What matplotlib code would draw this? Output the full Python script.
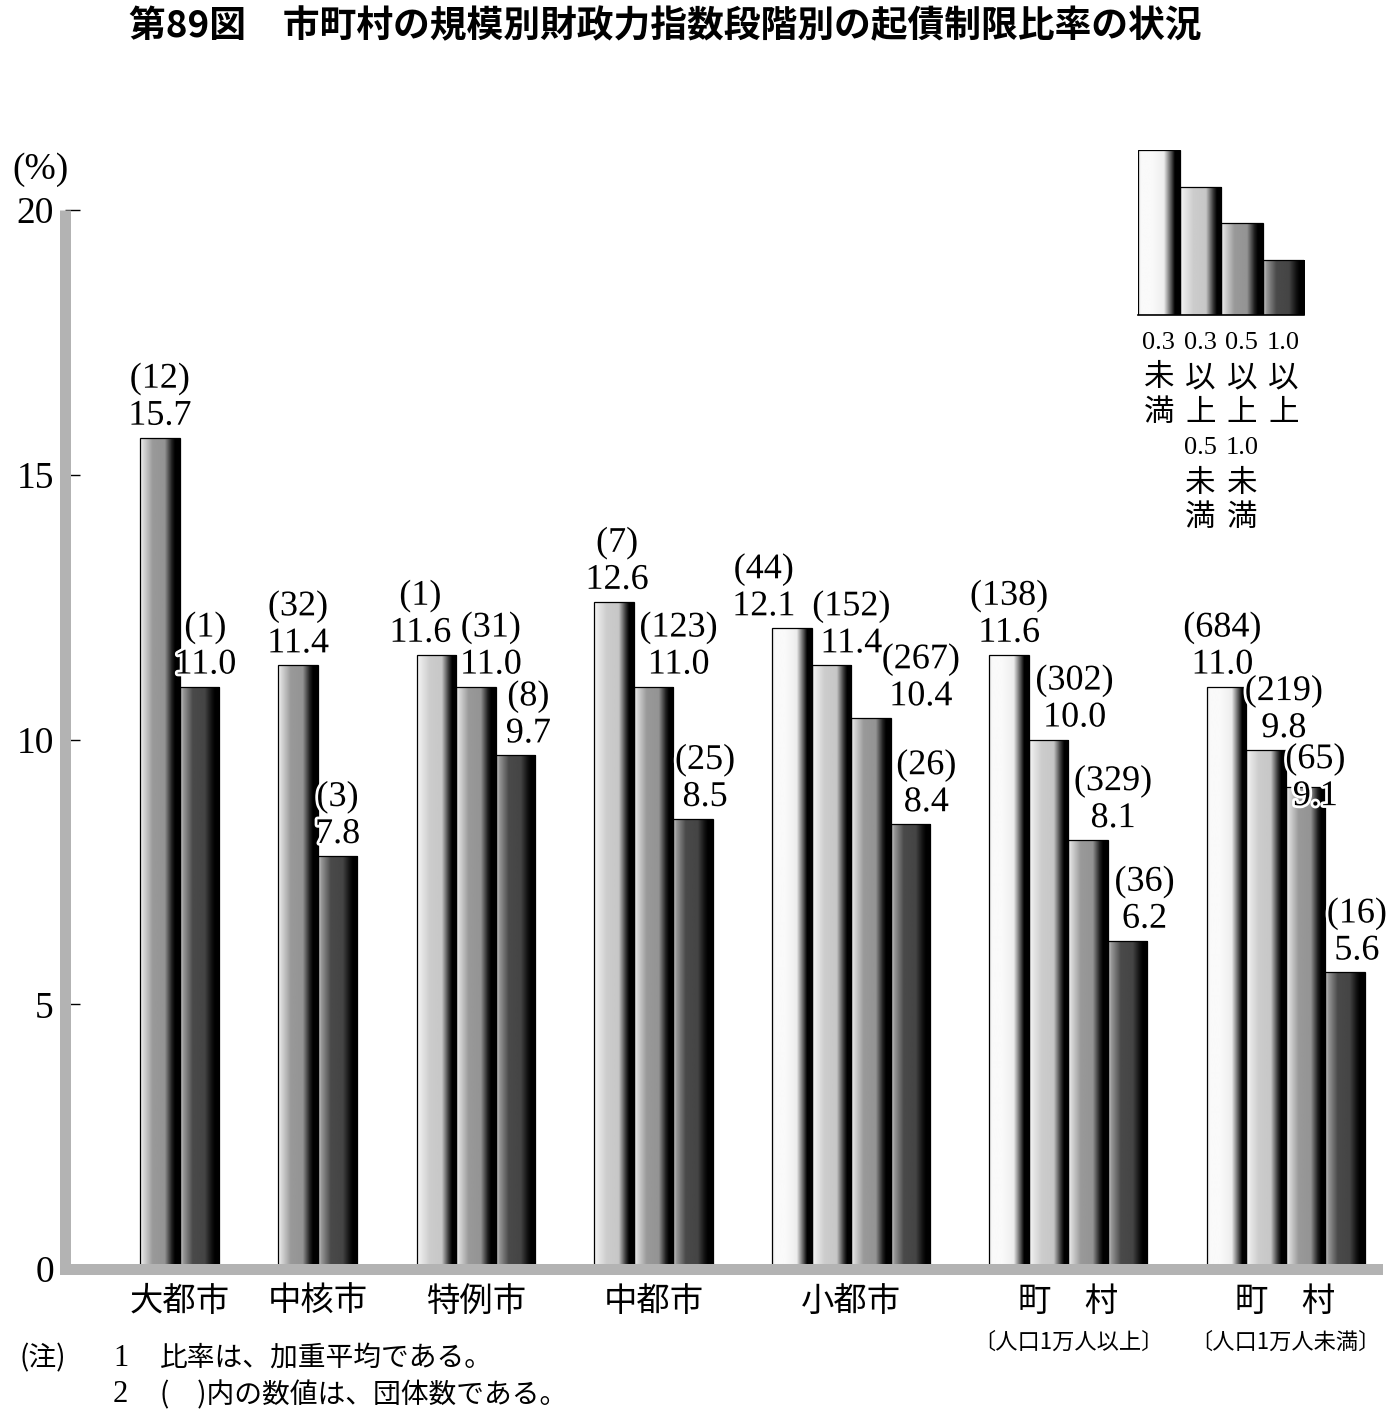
import numpy as np
import matplotlib
matplotlib.use("Agg")
import matplotlib.pyplot as plt
import matplotlib.patheffects as pe
from matplotlib.transforms import blended_transform_factory

# ---------------- data ----------------
title = "第89図　市町村の規模別財政力指数段階別の起債制限比率の状況"
groups = ["大都市", "中核市", "特例市", "中都市", "小都市", "町　村", "町　村"]
group_sub = ["", "", "", "", "", "〔人口1万人以上〕", "〔人口1万人未満〕"]
tier_names = ["0.3未満", "0.3以上0.5未満", "0.5以上1.0未満", "1.0以上"]
tier_label_lines = [["0.3", "未", "満"],
                    ["0.3", "以", "上", "0.5", "未", "満"],
                    ["0.5", "以", "上", "1.0", "未", "満"],
                    ["1.0", "以", "上"]]
bar_tiers = [[2, 3], [2, 3], [1, 2, 3], [1, 2, 3],
             [0, 1, 2, 3], [0, 1, 2, 3], [0, 1, 2, 3]]
ratios = [[15.7, 11.0], [11.4, 7.8], [11.6, 11.0, 9.7], [12.6, 11.0, 8.5],
          [12.1, 11.4, 10.4, 8.4], [11.6, 10.0, 8.1, 6.2], [11.0, 9.8, 9.1, 5.6]]
counts = [[12, 1], [32, 3], [1, 31, 8], [7, 123, 25],
          [44, 152, 267, 26], [138, 302, 329, 36], [684, 219, 65, 16]]
yticks = [0, 5, 10, 15, 20]
ytick_labels = ["0", "5", "10", "15", "20"]
unit_label = "(%)"
note_head = "(注)"
note_nums = ["1", "2"]
note_texts = ["比率は、加重平均である。", "(　)内の数値は、団体数である。"]

# ---------------- layout / style ----------------
W, H = 1400, 1420
DPI = 100
JP = ["Noto Sans CJK JP", "DejaVu Sans"]
NUM = ["Liberation Serif", "DejaVu Serif"]
SPINE_GRAY = "#b3b3b3"

# label horizontal nudges (pixels) and vertical nudges (pixels)
label_dx = [[0, 6], [0, 0], [-16, 15, 13], [3, 25, 12],
            [-28, 20, 50, 16], [0, 26, 25, 17], [-4, 18, 10, 12]]
label_dy = [[0, 0], [0, 0], [0, 0, 0], [0, 0, 0],
            [0, 0, 0, 0], [0, 0, 0, 0], [0, 0, -31, 0]]

# gradient profiles per tier (position, gray level)
grad_x = [0.0, 0.08, 0.32, 0.62, 0.80, 0.88, 1.0]
grad_profiles = [
    [0.90, 0.98, 0.98, 0.93, 0.30, 0.0, 0.0],
    [0.97, 0.92, 0.80, 0.78, 0.20, 0.0, 0.0],
    [0.97, 0.85, 0.60, 0.58, 0.12, 0.0, 0.0],
    [0.85, 0.60, 0.29, 0.27, 0.06, 0.0, 0.0],
]
legend_heights = [4.5, 3.5, 2.5, 1.5]


def gradient(tier, n=256):
    t = np.linspace(0, 1, n)
    return np.interp(t, grad_x, grad_profiles[tier])


def fill_bar(ax, rect, tier):
    x0, y0 = rect.get_x(), rect.get_y()
    w, h = rect.get_width(), rect.get_height()
    im = ax.imshow(gradient(tier)[np.newaxis, :], cmap="gray", vmin=0, vmax=1,
                   extent=[x0, x0 + w, y0, y0 + h], aspect="auto",
                   interpolation="bilinear", zorder=0.9)
    im.set_clip_path(rect)


fig = plt.figure(figsize=(W / DPI, H / DPI), dpi=DPI)

ax_left, ax_right, ax_top, ax_bottom = 65, 1377, 210, 1269
ax = fig.add_axes([ax_left / W, 1 - ax_bottom / H,
                   (ax_right - ax_left) / W, (ax_bottom - ax_top) / H])
bar_px = 39.5
xmax = (ax_right - ax_left) / bar_px

# bar positions: in bar-width units
start = 1.9
gap = 1.5
group_lefts = []
for vals in ratios:
    lefts = start + np.arange(len(vals))
    group_lefts.append(lefts)
    start += len(vals) + gap

halo = [pe.withStroke(linewidth=4, foreground="white")]
for gi, (lefts, vals, tiers, cnts) in enumerate(zip(group_lefts, ratios, bar_tiers, counts)):
    bars = ax.bar(lefts, vals, width=1.0, align="edge", facecolor="none",
                  edgecolor="black", linewidth=0.9, zorder=1)
    for rect, tier in zip(bars, tiers):
        fill_bar(ax, rect, tier)
    for bi, (rect, v, c) in enumerate(zip(bars, vals, cnts)):
        xc = rect.get_x() + rect.get_width() / 2
        dx = label_dx[gi][bi]
        dy = label_dy[gi][bi]
        ax.annotate(f"{v:.1f}", (xc, v), xytext=(dx, 13 + dy),
                    textcoords="offset pixels", ha="center", va="baseline",
                    fontsize=26, family=NUM, path_effects=halo, zorder=5,
                    annotation_clip=False)
        ax.annotate(f"({c})", (xc, v), xytext=(dx, 13 + 37 + dy),
                    textcoords="offset pixels", ha="center", va="baseline",
                    fontsize=26, family=NUM, path_effects=halo, zorder=5,
                    annotation_clip=False)

ax.set_xlim(0, xmax)
ax.set_ylim(0, 20)

# spines
for s in ["top", "right"]:
    ax.spines[s].set_visible(False)
for s in ["left", "bottom"]:
    ax.spines[s].set_color(SPINE_GRAY)
    ax.spines[s].set_linewidth(11 * 72 / DPI)
    ax.spines[s].set_zorder(3)
ax.spines["left"].set_capstyle("butt")
ax.spines["bottom"].set_capstyle("projecting")
ax.yaxis.set_zorder(2)

ax.set_xticks([])
ax.set_yticks(yticks)
ax.set_yticklabels(ytick_labels, fontsize=27, family=NUM)
ax.tick_params(axis="y", direction="in", length=15 * 72 / DPI, width=1.0,
               color="black", pad=8)

# group labels
tr = blended_transform_factory(ax.transData, fig.transFigure)
for lefts, name, sub in zip(group_lefts, groups, group_sub):
    xc = (lefts[0] + lefts[-1] + 1) / 2
    fig.text(xc, 1 - 1301 / H, name, transform=tr, ha="center", va="center",
             fontsize=24, family=JP)
    if sub:
        fig.text(xc, 1 - 1342 / H, sub, transform=tr, ha="center", va="center",
                 fontsize=16, family=JP)

# title
fig.text(665 / W, 1 - 27 / H, title, ha="center", va="center", fontsize=26.5,
         fontweight="bold", family=JP)

# unit label
fig.text(40 / W, 1 - 170 / H, unit_label, ha="center", va="center",
         fontsize=27, family=NUM)

# footnotes
fig.text(20 / W, 1 - 1358 / H, note_head, ha="left", va="center", fontsize=20, family=JP)
for i, (num, txt) in enumerate(zip(note_nums, note_texts)):
    y = 1 - (1358 + 37 * i) / H
    fig.text(113 / W, y, num, ha="left", va="center", fontsize=22, family=NUM)
    fig.text(160 / W, y, txt, ha="left", va="center", fontsize=20, family=JP)

# legend (mini bar chart)
lg_left, lg_right, lg_top, lg_bottom = 1138, 1304, 150, 315
lax = fig.add_axes([lg_left / W, 1 - lg_bottom / H,
                    (lg_right - lg_left) / W, (lg_bottom - lg_top) / H])
lbars = lax.bar(np.arange(4), legend_heights, width=1.0, align="edge",
                facecolor="none", edgecolor="black", linewidth=0.9, zorder=1)
for i, rect in enumerate(lbars):
    fill_bar(lax, rect, i)
lax.set_xlim(0, 4)
lax.set_ylim(0, max(legend_heights))
lax.axis("off")
lax.plot([0, 4], [0, 0], color="black", lw=1.2, clip_on=False)

col_w = (lg_right - lg_left) / 4
for i, lines in enumerate(tier_label_lines):
    xc = (lg_left + col_w * (i + 0.5)) / W
    for j, line in enumerate(lines):
        y = 1 - (343 + 35 * j) / H
        is_num = line[0].isdigit()
        fig.text(xc, y, line, ha="center", va="center",
                 fontsize=19 if is_num else 22,
                 family=NUM if is_num else JP)

fig.savefig("out.png", dpi=DPI)
